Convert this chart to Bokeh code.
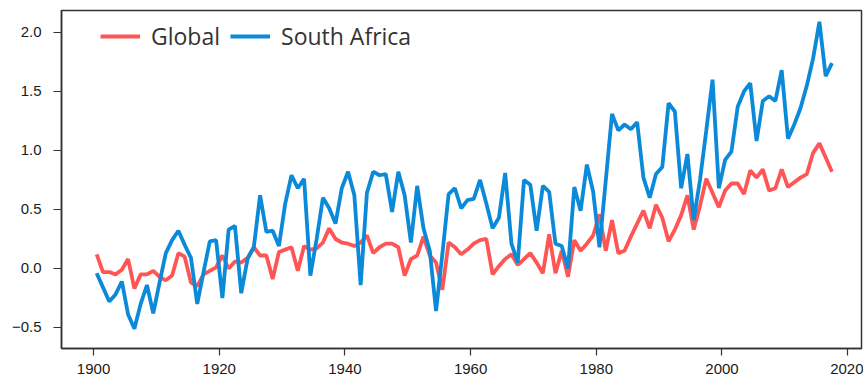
from bokeh.plotting import figure
from bokeh.models import ColumnDataSource, FixedTicker, Range1d, Legend, LegendItem
from bokeh.embed import file_html
from bokeh.resources import INLINE

# ---- data ----
years = list(range(1901, 2019))

global_anom = [
    0.12, -0.03, -0.03, -0.05, -0.01, 0.08, -0.17, -0.05, -0.05, -0.02,
    -0.07, -0.10, -0.06, 0.13, 0.10, -0.12, -0.15, -0.05, -0.02, 0.01,
    0.11, 0.00, 0.06, 0.05, 0.09, 0.18, 0.11, 0.11, -0.09, 0.14,
    0.16, 0.18, -0.02, 0.19, 0.16, 0.17, 0.22, 0.34, 0.25, 0.22,
    0.21, 0.19, 0.22, 0.28, 0.13, 0.18, 0.21, 0.21, 0.18, -0.06,
    0.08, 0.11, 0.27, 0.11, 0.05, -0.18, 0.22, 0.18, 0.12, 0.16,
    0.21, 0.24, 0.25, -0.05, 0.02, 0.08, 0.12, 0.03, 0.08, 0.13,
    0.05, -0.04, 0.29, -0.04, 0.15, -0.07, 0.24, 0.15, 0.21, 0.28,
    0.46, 0.15, 0.41, 0.13, 0.15, 0.27, 0.38, 0.49, 0.34, 0.54,
    0.43, 0.23, 0.33, 0.45, 0.62, 0.33, 0.53, 0.76, 0.64, 0.52,
    0.66, 0.72, 0.72, 0.63, 0.83, 0.77, 0.84, 0.66, 0.68, 0.84,
    0.69, 0.73, 0.77, 0.80, 0.98, 1.06, 0.94, 0.82,
]

south_africa_anom = [
    -0.04, -0.16, -0.28, -0.22, -0.11, -0.39, -0.51, -0.30, -0.14, -0.38,
    -0.12, 0.13, 0.24, 0.32, 0.20, 0.09, -0.30, -0.03, 0.23, 0.24,
    -0.25, 0.33, 0.36, -0.21, 0.08, 0.18, 0.62, 0.31, 0.32, 0.19,
    0.55, 0.79, 0.68, 0.76, -0.06, 0.25, 0.60, 0.51, 0.38, 0.68,
    0.82, 0.62, -0.14, 0.64, 0.82, 0.79, 0.80, 0.48, 0.82, 0.62,
    0.22, 0.70, 0.34, 0.15, -0.36, 0.12, 0.63, 0.68, 0.51, 0.58,
    0.59, 0.75, 0.55, 0.34, 0.43, 0.81, 0.21, 0.05, 0.75, 0.71,
    0.32, 0.70, 0.65, 0.21, 0.19, 0.00, 0.69, 0.49, 0.88, 0.65,
    0.18, 0.74, 1.31, 1.17, 1.22, 1.18, 1.24, 0.77, 0.60, 0.80,
    0.86, 1.40, 1.33, 0.68, 0.97, 0.41, 0.75, 1.17, 1.60, 0.68,
    0.92, 0.99, 1.37, 1.50, 1.57, 1.08, 1.42, 1.46, 1.42, 1.68,
    1.10, 1.22, 1.36, 1.55, 1.78, 2.09, 1.63, 1.74,
]

series_names = ["Global", "South Africa"]
x_ticks = [1900, 1920, 1940, 1960, 1980, 2000, 2020]
x_tick_labels = ["1900", "1920", "1940", "1960", "1980", "2000", "2020"]
y_ticks = [-0.5, 0.0, 0.5, 1.0, 1.5, 2.0]
y_tick_labels = ["\u22120.5", "0.0", "0.5", "1.0", "1.5", "2.0"]

# annual values are drawn at mid-year
xpos = [y - 0.5 for y in years]
src = ColumnDataSource(dict(x=xpos, g=global_anom, sa=south_africa_anom))

RED = "#FF5555"
BLUE = "#0A8AD8"
INK = "#1a1a1a"

p = figure(
    width=863, height=380,
    x_range=Range1d(1894.9, 2022.2),
    y_range=Range1d(-0.678, 2.186),
    output_backend="svg", toolbar_location=None,
    min_border_left=61, min_border_right=2,
    min_border_top=10, min_border_bottom=32,
)
p.background_fill_color = "white"
p.border_fill_color = "white"
p.outline_line_color = "#333333"
p.outline_line_width = 1.5
p.grid.visible = False

r_g = p.line("x", "g", source=src, line_color=RED, line_width=3.8)
r_sa = p.line("x", "sa", source=src, line_color=BLUE, line_width=3.8)

for ax in (p.xaxis[0], p.yaxis[0]):
    ax.axis_line_color = "#333333"
    ax.axis_line_width = 1.5
    ax.major_tick_line_color = "#333333"
    ax.major_tick_line_width = 1.2
    ax.major_tick_in = 0
    ax.minor_tick_line_color = None
    ax.major_label_text_font = "Liberation Sans"
    ax.major_label_text_font_size = "15px"
    ax.major_label_text_color = INK

p.xaxis[0].ticker = FixedTicker(ticks=x_ticks)
p.xaxis[0].major_label_overrides = {t: l for t, l in zip(x_ticks, x_tick_labels)}
p.xaxis[0].major_tick_out = 7
p.xaxis[0].major_label_standoff = 8

p.yaxis[0].ticker = FixedTicker(ticks=y_ticks)
p.yaxis[0].major_label_overrides = {t: l for t, l in zip(y_ticks, y_tick_labels)}
p.yaxis[0].major_tick_out = 8
p.yaxis[0].major_label_standoff = 12

legend = Legend(
    items=[LegendItem(label=series_names[0], renderers=[r_g]),
           LegendItem(label=series_names[1], renderers=[r_sa])],
    orientation="horizontal",
    location=(39, 296),
    margin=0, padding=0, spacing=10,
    glyph_width=40, glyph_height=20, label_height=20,
    label_standoff=11,
    label_text_font="Open Sans", label_text_font_size="23px",
    label_text_color="#333333",
    border_line_color=None, background_fill_alpha=0,
)
p.add_layout(legend)

open("out.html", "w").write(file_html(p, INLINE))
